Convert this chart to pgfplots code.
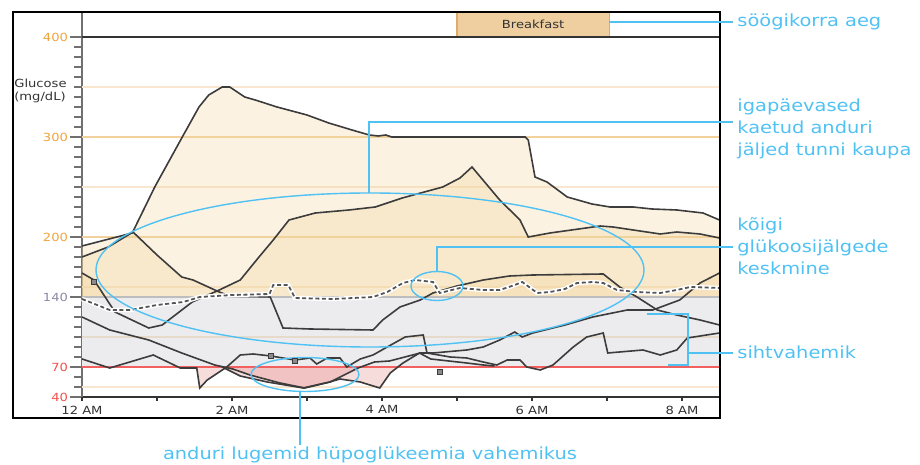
\documentclass[border=0pt]{standalone}
\usepackage{pgfplots}
\pgfplotsset{compat=1.18}
\usepackage{pgfplotstable}
\usepackage{fontspec}
\setmainfont{DejaVu Sans}[FakeStretch=1.17]
\definecolor{annblue}{HTML}{4FC1F3}
\definecolor{trace}{HTML}{3C3C3C}
\definecolor{band}{HTML}{ECECEF}
\definecolor{gridfaint}{HTML}{F8E6CF}
\definecolor{gridmain}{HTML}{F2D19C}
\definecolor{gridbeige}{HTML}{E6DACA}
\definecolor{hifill}{HTML}{F2D59B}
\definecolor{lofill}{HTML}{E58A8A}
\definecolor{redline}{HTML}{F26060}
\definecolor{line140}{HTML}{BDBDBD}
\definecolor{tickorange}{HTML}{EFA43A}
\definecolor{tickgrey}{HTML}{8C88A6}
\definecolor{tickred}{HTML}{F2504A}
\definecolor{mealfill}{HTML}{EFCFA0}
\definecolor{mealdraw}{HTML}{E2AC68}
\definecolor{axisdark}{HTML}{333333}
\definecolor{spinegrey}{HTML}{707070}
\definecolor{meangrey}{HTML}{555555}
\definecolor{markgrey}{HTML}{8A8A8A}

\pgfplotstableread{
h v
0 191
0.67 204
0.97 250
1.33 299
1.56 330
1.69 342
1.87 350
1.97 350
2.17 340
2.31 337
2.6 330
3.0 322
3.29 314
3.6 307
3.83 302
3.95 301
4.05 302
4.13 300
4.57 300
5.91 300
5.95 297
6.04 260
6.2 255
6.47 240
6.8 233
7.04 230
7.35 230
7.6 228
7.93 227
8.28 224
8.5 217
}\trA

\pgfplotstableread{
h v
0 180
0.35 190
0.68 205
1.0 182
1.33 160
1.48 157
1.83 145
1.97 141
2.51 140
2.68 109
3.04 108
3.88 107
4.01 117
4.24 130
4.51 137
4.68 144
5.0 151
5.35 157
5.7 161
6.01 162
6.95 163
7.17 150
7.4 140
7.67 127
7.93 122
8.24 117
8.5 112
}\trB

\pgfplotstableread{
h v
0 164
0.16 157
0.44 125
0.89 109
1.07 112
1.47 135
1.83 147
1.97 152
2.11 157
2.36 180
2.55 197
2.76 217
3.11 224
3.56 227
3.91 230
4.27 239
4.81 250
5.04 259
5.2 270
5.57 237
5.84 217
5.95 200
6.24 204
6.91 211
7.08 210
7.71 203
7.93 205
8.24 203
8.5 199
}\trC

\pgfplotstableread{
h v
0 120
0.37 107
0.89 97
1.33 84
1.77 72
2.01 68
2.24 62
2.64 54
2.97 49
3.31 55
3.68 69
3.9 75
4.1 76
4.51 84
4.68 84
5.13 87
5.35 90
5.57 97
5.77 105
5.87 100
6.01 104
6.44 112
6.81 120
7.27 127
7.61 127
7.97 137
8.24 154
8.5 164
}\trF

\pgfplotstableread{
h v
0 78
0.37 69
0.95 82
1.31 69
1.53 69
1.57 49
1.67 57
1.93 70
2.11 82
2.28 83
2.52 81
2.84 77
3.04 79
3.13 73
3.27 79
3.44 79
3.53 70
3.71 78
3.88 82
4.07 90
4.31 100
4.55 102
4.6 84
4.91 80
5.13 79
5.35 75
5.53 72
5.67 77
5.84 77
5.93 70
6.11 67
6.28 72
6.55 90
6.73 100
6.95 104
7.01 84
7.48 87
7.71 82
7.93 87
8.07 99
8.5 104
}\trG

\pgfplotstableread{
h v
1.87 70
2.11 61
2.47 55
2.95 49
3.3 55
3.44 58
3.71 55
3.97 49
4.11 64
4.28 74
4.5 84
4.65 78
5.13 74
5.35 72
5.5 71
}\trH

\pgfplotstableread{
h v
0 138
0.37 127
0.64 127
1.0 132
1.35 135
1.57 140
2.01 142
2.5 143
2.55 152
2.75 152
2.84 139
3.35 138
3.88 140
4.07 145
4.28 154
4.44 157
4.68 155
4.77 144
5.04 149
5.35 147
5.57 147
5.77 152
5.87 155
6.07 144
6.24 145
6.44 148
6.6 154
6.81 155
6.95 154
7.13 147
7.4 145
7.71 144
7.93 147
8.11 150
8.5 149
}\trMean

\pgfplotstableread{
h v
0.16 155
2.52 81
2.84 76
4.77 65
}\trMarks

\begin{document}
\begin{tikzpicture}
\begin{axis}[
  x=37.5pt, y=0.5pt,
  xmin=0, xmax=8.5, ymin=40, ymax=425,
  axis x line*=bottom, axis y line*=left,
  x axis line style={draw=axisdark, line width=1.2pt},
  y axis line style={draw=spinegrey, line width=1pt},
  clip=false,
  xtick={0,2,4,6,8},
  xticklabels={12 AM,2 AM,4 AM,6 AM,8 AM},
  xtick style={draw=none},
  xticklabel style={font=\fontsize{5.6}{6.6}\selectfont, text=axisdark, anchor=north, inner sep=0pt, yshift=1.8pt},
  ytick={40,70,140,200,300,400},
  yticklabels={\textcolor{tickred}{40},\textcolor{tickred}{70},\textcolor{tickgrey}{140},\textcolor{tickorange}{200},\textcolor{tickorange}{300},\textcolor{tickorange}{400}},
  minor ytick={50,60,...,390},
  tick align=outside,
  major tick length=6pt, minor tick length=4pt,
  ytick style={draw=spinegrey, line width=0.6pt},
  yticklabel style={font=\fontsize{5.6}{6.6}\selectfont, anchor=east, inner sep=0pt, xshift=-0.8pt},
]
% target band
\fill[band] (axis cs:0,70) rectangle (axis cs:8.5,140);
% grid
\draw[gridfaint, line width=0.6pt] (axis cs:0,50) -- (axis cs:8.5,50);
\draw[gridfaint, line width=0.6pt] (axis cs:0,150) -- (axis cs:8.5,150);
\draw[gridfaint, line width=0.6pt] (axis cs:0,250) -- (axis cs:8.5,250);
\draw[gridfaint, line width=0.6pt] (axis cs:0,350) -- (axis cs:8.5,350);
\draw[gridbeige, line width=0.7pt] (axis cs:0,100) -- (axis cs:8.5,100);
\draw[gridmain, line width=0.7pt] (axis cs:0,200) -- (axis cs:8.5,200);
\draw[gridmain, line width=0.7pt] (axis cs:0,300) -- (axis cs:8.5,300);
% fills above range
\begin{scope}
\clip (axis cs:0,140) rectangle (axis cs:8.5,400);
\addplot[draw=none, fill=hifill, fill opacity=0.3] table {\trA} -- (axis cs:8.5,140) -- (axis cs:0,140) -- cycle;
\addplot[draw=none, fill=hifill, fill opacity=0.3] table {\trB} -- (axis cs:8.5,140) -- (axis cs:0,140) -- cycle;
\addplot[draw=none, fill=hifill, fill opacity=0.3] table {\trC} -- (axis cs:8.5,140) -- (axis cs:0,140) -- cycle;
\addplot[draw=none, fill=hifill, fill opacity=0.3] table {\trF} -- (axis cs:8.5,140) -- (axis cs:0,140) -- cycle;
\end{scope}
% fills below range
\begin{scope}
\clip (axis cs:0,40) rectangle (axis cs:8.5,70);
\addplot[draw=none, fill=lofill, fill opacity=0.3] table {\trF} -- (axis cs:8.5,70) -- (axis cs:0,70) -- cycle;
\addplot[draw=none, fill=lofill, fill opacity=0.3] table {\trG} -- (axis cs:8.5,70) -- (axis cs:0,70) -- cycle;
\addplot[draw=none, fill=lofill, fill opacity=0.3] table {\trH} -- (axis cs:5.5,70) -- (axis cs:1.87,70) -- cycle;
\end{scope}
\draw[line140, line width=1pt] (axis cs:0,140) -- (axis cs:8.5,140);
\draw[redline, line width=1pt] (axis cs:0,70) -- (axis cs:8.5,70);
% traces
\addplot[trace, line width=0.8pt] table {\trA};
\addplot[trace, line width=0.8pt] table {\trB};
\addplot[trace, line width=0.8pt] table {\trC};
\addplot[trace, line width=0.8pt] table {\trF};
\addplot[trace, line width=0.8pt] table {\trG};
\addplot[trace, line width=0.8pt] table {\trH};
\addplot[white, line width=2.2pt] table {\trMean};
\addplot[meangrey, line width=0.9pt, dash pattern=on 2pt off 1.3pt] table {\trMean};
\addplot[only marks, mark=square*, mark size=1.3pt, mark options={fill=markgrey, draw=trace, line width=0.5pt}] table {\trMarks};
% x ticks
\draw[axisdark, line width=0.6pt] (axis cs:0,40) -- (axis cs:0,36) (axis cs:1,40) -- (axis cs:1,36) (axis cs:2,40) -- (axis cs:2,36) (axis cs:3,40) -- (axis cs:3,36) (axis cs:4,40) -- (axis cs:4,36) (axis cs:5,40) -- (axis cs:5,36) (axis cs:6,40) -- (axis cs:6,36) (axis cs:7,40) -- (axis cs:7,36) (axis cs:8,40) -- (axis cs:8,36);
% top line and meal
\fill[mealfill] (axis cs:5,400) rectangle (axis cs:7.03,425);
\draw[mealdraw, line width=0.6pt] (axis cs:5,400) -- (axis cs:5,425) (axis cs:7.03,400) -- (axis cs:7.03,425);
\node[font=\fontsize{5.6}{6.6}\selectfont, text=axisdark] at (axis cs:6.015,412.5) {Breakfast};
\draw[axisdark, line width=1.3pt] (axis cs:0,400) -- (axis cs:8.5,400);
% frame
\draw[black, line width=1pt] (axis cs:-0.92,19) rectangle (axis cs:8.5,425);
% y label
\node[font=\fontsize{5.6}{6.6}\selectfont, text=axisdark, align=left, anchor=west, inner sep=0pt] at (axis cs:-0.907,346) {Glucose\\(mg/dL)};
% annotations
\begin{scope}[annblue]
\draw[line width=1pt] (axis cs:7.03,415) -- (axis cs:8.68,415);
\node[anchor=west, inner sep=0pt, font=\fontsize{8.3}{11}\selectfont] at (axis cs:8.733,415) {söögikorra aeg};
\draw[line width=1pt] (axis cs:3.827,244) -- (axis cs:3.827,315) -- (axis cs:8.68,315);
\node[anchor=west, inner sep=0pt, align=left, font=\fontsize{8.3}{11}\selectfont] at (axis cs:8.733,308) {igapäevased\\kaetud anduri\\jäljed tunni kaupa};
\draw[line width=0.7pt] (axis cs:3.84,167) ellipse [x radius=137pt, y radius=38.5pt];
\draw[line width=0.7pt] (axis cs:4.733,151) ellipse [x radius=13pt, y radius=7.25pt];
\draw[line width=1pt] (axis cs:4.733,165) -- (axis cs:4.733,190) -- (axis cs:8.68,190);
\node[anchor=west, inner sep=0pt, align=left, font=\fontsize{8.3}{11}\selectfont] at (axis cs:8.733,190.5) {kõigi\\glükoosijälgede\\keskmine};
\draw[line width=1pt] (axis cs:7.533,123) -- (axis cs:8.08,123) -- (axis cs:8.08,72) -- (axis cs:7.813,72);
\draw[line width=1pt] (axis cs:8.08,84) -- (axis cs:8.68,84);
\node[anchor=west, inner sep=0pt, font=\fontsize{8.3}{11}\selectfont] at (axis cs:8.733,85) {sihtvahemik};
\draw[line width=0.7pt] (axis cs:2.973,62.5) ellipse [x radius=27pt, y radius=8.5pt];
\draw[line width=1pt] (axis cs:2.907,46) -- (axis cs:2.907,-8);
\node[inner sep=0pt, font=\fontsize{8.3}{11}\selectfont] at (axis cs:3.84,-18) {anduri lugemid hüpoglükeemia vahemikus};
\end{scope}
\coordinate (BL) at (axis cs:-1.0933,-28);
\coordinate (TR) at (axis cs:11.1733,437);
\end{axis}
\pgfresetboundingbox
\path (BL) rectangle (TR);
\end{tikzpicture}
\end{document}
